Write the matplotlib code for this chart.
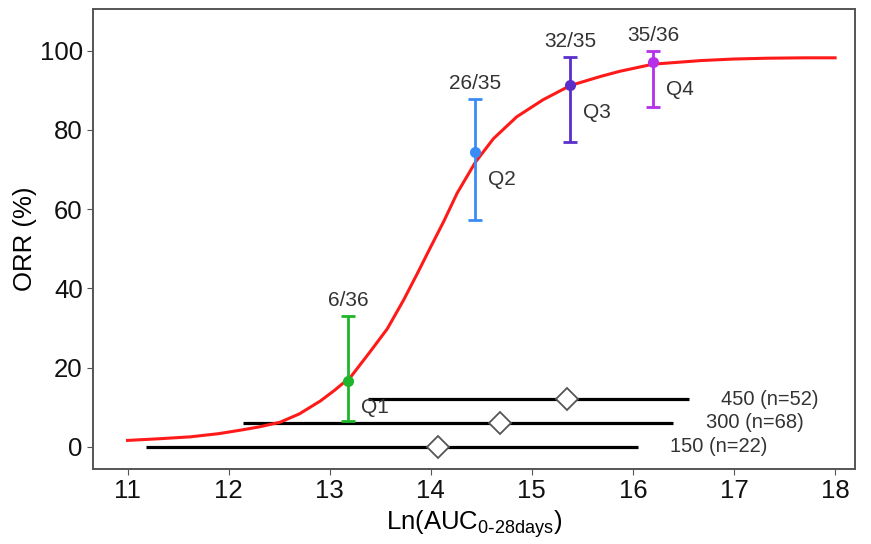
import numpy as np
import matplotlib.pyplot as plt

plt.rcParams['font.family'] = ['Liberation Sans', 'DejaVu Sans']

# fitted curve
curve_x = [11.0, 11.3, 11.62, 11.9, 12.12, 12.3, 12.51, 12.7, 12.91, 13.05,
           13.21, 13.4, 13.57, 13.73, 13.87, 14.0, 14.13, 14.26, 14.44, 14.62,
           14.85, 15.11, 15.38, 15.68, 15.87, 16.2, 16.67, 17.0, 17.33, 17.7, 18.0]
curve_y = [1.6, 2.0, 2.5, 3.3, 4.2, 5.0, 6.2, 8.3, 11.6, 14.3,
           17.7, 24.0, 29.8, 37.0, 43.9, 50.5, 57.0, 64.0, 71.8, 77.8,
           83.3, 87.6, 91.2, 93.5, 94.8, 96.6, 97.5, 97.9, 98.1, 98.2, 98.2]

# quartile observed response rates
quart_x = [13.18, 14.44, 15.38, 16.2]
quart_y = [16.7, 74.3, 91.4, 97.2]
quart_lo = [6.4, 57.2, 77.0, 85.8]
quart_hi = [33.0, 87.8, 98.5, 99.9]
quart_frac = ['6/36', '26/35', '32/35', '35/36']
quart_names = ['Q1', 'Q2', 'Q3', 'Q4']
quart_colors = ['#1fb52a', '#3a8cf5', '#5a2fc9', '#b530e8']

# exposure ranges per dose
dose_labels = ['150 (n=22)', '300 (n=68)', '450 (n=52)']
dose_y = [0, 6, 12]
dose_lo = [11.18, 12.14, 13.38]
dose_hi = [16.05, 16.4, 16.55]
dose_med = [14.07, 14.68, 15.35]

fig = plt.figure(figsize=(8.71, 5.44), dpi=100)
ax = fig.add_axes([0.107, 0.138, 0.875, 0.846])

for y, lo, hi, med, lab in zip(dose_y, dose_lo, dose_hi, dose_med, dose_labels):
    ax.plot([lo, hi], [y, y], color='black', lw=2.3, solid_capstyle='butt', zorder=2)
    ax.plot(med, y, marker='D', ms=11, mfc='white', mec='#555555', mew=1.3, zorder=3)
    ax.text(hi + 0.32, y, lab, fontsize=14.5, color='#333333', ha='left', va='center')

ax.plot(curve_x, curve_y, color='#ff1a1a', lw=2.2, zorder=4)

for x, y, lo, hi, frac, name, c in zip(quart_x, quart_y, quart_lo, quart_hi,
                                       quart_frac, quart_names, quart_colors):
    ax.errorbar(x, y, yerr=[[y - lo], [hi - y]], fmt='o', color=c, ms=7,
                capsize=5, elinewidth=2, capthick=2, zorder=5)
    ax.text(x, hi + 1.5, frac, fontsize=15, color='#333333', ha='center', va='bottom')
    ax.text(x + 0.13, y - 4.5, name, fontsize=15, color='#333333', ha='left', va='top')

ax.set_xlim(10.66, 18.2)
ax.set_ylim(-5.6, 110.6)
ax.set_xticks(np.arange(11, 19, 1))
ax.set_yticks(np.arange(0, 101, 20))
ax.tick_params(labelsize=18.5, length=4, color='#555555', labelcolor='#111111')
for s in ax.spines.values():
    s.set_color('#555555')
    s.set_linewidth(1.4)

ax.set_xlabel(r'Ln(AUC$_{\mathregular{0\text{-}28days}}$)', fontsize=18.5, labelpad=3)
ax.set_ylabel('ORR (%)', fontsize=18.5, labelpad=2)

fig.savefig('out.png', dpi=100)
